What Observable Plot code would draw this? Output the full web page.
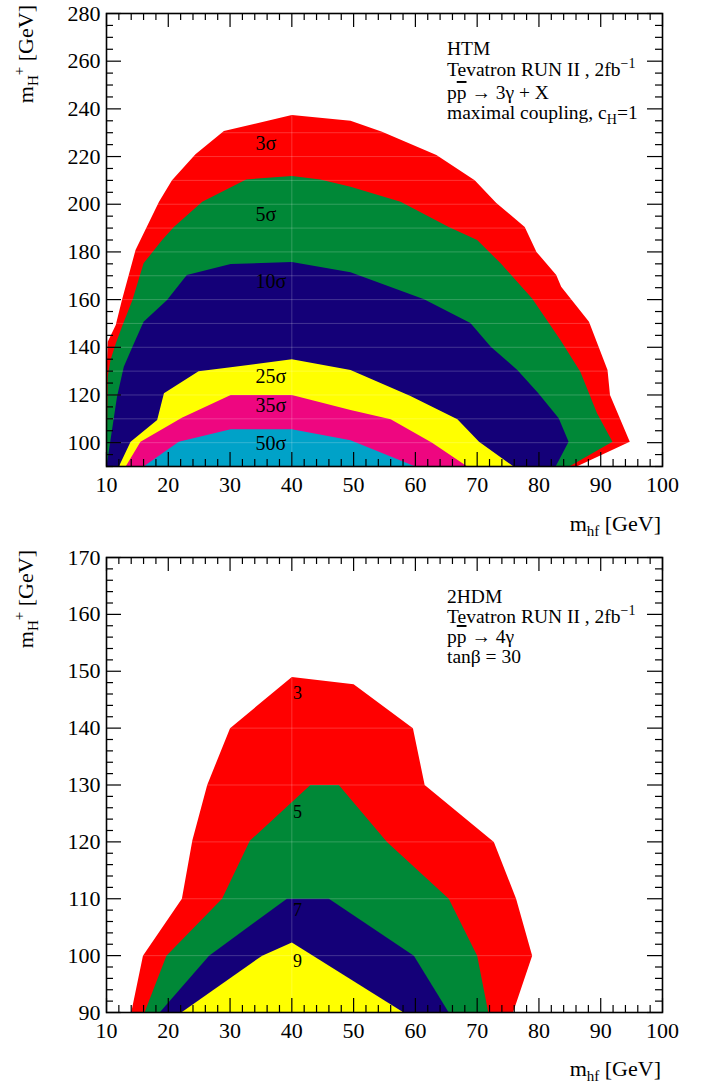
<!DOCTYPE html>
<html>
<head>
<meta charset="utf-8">
<script src="https://cdn.jsdelivr.net/npm/d3@7"></script>
<script src="https://cdn.jsdelivr.net/npm/@observablehq/plot@0.6"></script>
<style>
  body { margin: 0; background: #fff; }
  #top, #bot { display: block; width: 701px; }
  svg { display: block; }
</style>
</head>
<body>
<div id="top"></div>
<div id="bot"></div>
<script>
// ---------------- data ----------------
const xTicks = [10, 20, 30, 40, 50, 60, 70, 80, 90, 100];

// Top panel (HTM, pp̄ → 3γ + X): y tick labels
const topYTicks = [100, 120, 140, 160, 180, 200, 220, 240, 260, 280];
// contour polygons [m_hf, m_H+]
const top3s = [[10,90],[10,128],[10.2,142.3],[11.5,149.3],[12.5,159.8],[13.6,170.3],[14.7,180.8],[18.5,201],[20.6,210.1],[24.4,221],[29,230.7],[40,237.4],[49.5,235],[54.6,230.4],[63.4,220.6],[69.6,210.1],[73.1,200.5],[77.7,190.5],[79.6,180],[82.8,170.3],[83.6,165.4],[88.1,150.7],[91.1,130.5],[91.5,120],[94.7,100.4],[86.1,90]];
const top5s = [[10,90],[10.2,127.7],[10.65,134.7],[11.5,141.6],[12.5,148.6],[14.2,159.8],[16,175.2],[19,185],[20.9,190.5],[25.5,201],[32.6,210.4],[40,211.8],[44.6,210.4],[49.5,207.3],[57.6,201],[65.4,190.5],[70,185],[73.8,175.2],[78.9,160.5],[83.5,143],[86.7,129.7],[88.1,120.7],[89.4,112.3],[91.9,100.4],[84.9,90]];
const top10s = [[10,90],[11.7,119.3],[12.8,131.8],[14.2,140.2],[16,150.7],[19.8,159.8],[23,170.3],[30.1,174.9],[40,175.8],[49.5,171.5],[61.4,160.1],[68.9,150.2],[72.2,140.2],[76.5,130.5],[79.9,120.7],[83.2,110.2],[84.8,100.4],[82.7,90]];
const top25s = [[12,90],[13.9,100.4],[18.2,109.5],[19.3,120.7],[24.9,130],[30.1,131.6],[40,135],[49.5,130.5],[59.2,119.6],[66.8,109.8],[70.3,100.4],[75.9,90]];
const top35s = [[13.1,90],[15.5,100.4],[22.2,110.4],[30.1,120],[40,120],[49.5,113.7],[56,109.8],[62.7,100],[68.4,90]];
const top50s = [[16,90],[21.7,100.4],[30.1,105.6],[40,105.6],[49.5,101],[60,90]];
const topLabels = ["3σ", "5σ", "10σ", "25σ", "35σ", "50σ"];
const topLabelX = [34.1, 34.1, 34.1, 34.1, 34.1, 34.1];
const topLabelY = [225.5, 195.5, 167.4, 127.7, 115.4, 99.4];

// Bottom panel (2HDM, pp̄ → 4γ)
const botYTicks = [90, 100, 110, 120, 130, 140, 150, 160, 170];
const bot3 = [[14,90],[15.9,100],[22.2,110],[23.9,120.3],[26.3,130],[30,140],[40,149],[50,147.7],[59.6,140],[61.5,130],[72.7,120],[76.3,110],[78.9,100],[75.8,90]];
const bot5 = [[16.15,90],[19.7,100],[28.7,110],[33.2,120.2],[43,130],[47.6,130],[55.4,120],[65.4,110],[70,100],[71.8,90]];
const bot7 = [[18.6,90],[26.6,100],[39.2,110],[46,110],[59.75,100],[65.4,90]];
const bot9 = [[22.1,90],[35.2,100],[40,102.3],[58.1,90]];
const botLabels = ["3", "5", "7", "9"];
const botLabelX = [40.2, 40.2, 40.2, 40.2];
const botLabelY = [146.1, 125.2, 107.9, 99.1];

// ---------------- drawing ----------------
const FONT = "'Liberation Serif','Times New Roman',Times,serif";
const C = {red: "#ff0000", green: "#008837", navy: "#140078", yellow: "#ffff00", pink: "#ee0680", cyan: "#00a2c8"};

function panel(cfg) {
  const width = 701, ml = 106, mr = 39;
  const {height, mt, mb, yDomain, yMajor, yLabels, yMinorStep, gridStep, polys, labels, labelX, labelY, labelSize} = cfg;
  const iw = width - ml - mr, ih = height - mt - mb;
  const xMinor = d3.range(10, 101, 2).filter(v => v % 10 !== 0);
  const yMinor = d3.range(yDomain[0], yDomain[1] + 0.001, yMinorStep).filter(v => !yMajor.includes(v));
  const gridY = d3.range(yDomain[0] + gridStep, yDomain[1], gridStep);
  const tk = {stroke: "black", strokeWidth: 1.2};
  const marks = [
    ...polys.map(p => Plot.line(p.pts, {x: d => d[0], y: d => d[1], fill: p.color, stroke: "none", clip: true})),
    Plot.ruleY(gridY, {stroke: "white", strokeOpacity: 0.2, strokeWidth: 1, clip: true}),
    Plot.ruleX([40], {stroke: "white", strokeOpacity: 0.2, strokeWidth: 1, clip: true}),
    // ticks, all pointing inward
    Plot.tickX(xTicks, {x: d => d, insetTop: ih - 14, ...tk}),
    Plot.tickX(xMinor, {x: d => d, insetTop: ih - 7, ...tk}),
    Plot.tickX(xTicks, {x: d => d, insetBottom: ih - 14, ...tk}),
    Plot.tickX(xMinor, {x: d => d, insetBottom: ih - 7, ...tk}),
    Plot.tickY(yMajor, {y: d => d, insetRight: iw - 15, ...tk}),
    Plot.tickY(yMinor, {y: d => d, insetRight: iw - 7, ...tk}),
    Plot.tickY(yMajor, {y: d => d, insetLeft: iw - 15, ...tk}),
    Plot.tickY(yMinor, {y: d => d, insetLeft: iw - 7, ...tk}),
    Plot.frame({stroke: "black", strokeWidth: 1.6}),
    // tick labels
    Plot.text(xTicks, {x: d => d, text: d => String(d), frameAnchor: "bottom", dy: 18, lineAnchor: "middle", fontSize: 22, fontFamily: FONT, fill: "black"}),
    Plot.text(yLabels, {y: d => d, text: d => String(d), frameAnchor: "left", dx: -6, textAnchor: "end", lineAnchor: "middle", fontSize: 22, fontFamily: FONT, fill: "black"}),
    // contour labels
    Plot.text(labels, {x: (d, i) => labelX[i], y: (d, i) => labelY[i], text: d => d, textAnchor: "start", lineAnchor: "middle", fontSize: labelSize, fontFamily: FONT, fill: "black"})
  ];
  return Plot.plot({
    width, height,
    marginLeft: ml, marginRight: mr, marginTop: mt, marginBottom: mb,
    x: {domain: [10, 100], axis: null},
    y: {domain: yDomain, axis: null},
    style: {fontFamily: FONT, background: "white", overflow: "visible"},
    marks
  });
}

// rich text helper: parts = [{t, dy, size, over}]
function rich(svg, x, y, parts, size, opts = {}) {
  const t = d3.select(svg).append("text")
    .attr("x", x).attr("y", y)
    .attr("font-family", FONT).attr("font-size", size)
    .attr("fill", "black").attr("text-anchor", opts.anchor || "start");
  if (opts.rotate) t.attr("transform", `rotate(-90 ${x} ${y})`);
  let shift = 0;
  for (const p of parts) {
    const s = t.append("tspan").text(p.t);
    const target = p.dy || 0;
    s.attr("dy", target - shift);
    shift = target;
    if (p.size) s.attr("font-size", p.size);
    if (p.over) s.style("text-decoration", "overline");
  }
  return t;
}

function yTitle(svg, yEnd) {
  rich(svg, 33, yEnd, [
    {t: "m"}, {t: "H", dy: 5, size: 15}, {t: "+", dy: -9, size: 15}, {t: " [GeV]"}
  ], 22, {rotate: true, anchor: "end"});
}
function xTitle(svg, yBase) {
  rich(svg, 661, yBase, [
    {t: "m"}, {t: "hf", dy: 5, size: 15}, {t: " [GeV]"}
  ], 22, {anchor: "end"});
}

// ---- top panel ----
const topChart = panel({
  height: 540, mt: 13, mb: 74,
  yDomain: [90, 280], yMajor: topYTicks, yLabels: topYTicks, yMinorStep: 5, gridStep: 10,
  polys: [
    {pts: top3s, color: C.red}, {pts: top5s, color: C.green}, {pts: top10s, color: C.navy},
    {pts: top25s, color: C.yellow}, {pts: top35s, color: C.pink}, {pts: top50s, color: C.cyan}
  ],
  labels: topLabels, labelX: topLabelX, labelY: topLabelY, labelSize: 20
});
document.getElementById("top").appendChild(topChart);
yTitle(topChart, 5);
xTitle(topChart, 531);
const ax = 447, fs = 19.5;
rich(topChart, ax, 55, [{t: "HTM"}], fs);
rich(topChart, ax, 75.5, [{t: "Tevatron RUN II , 2fb"}, {t: "−1", dy: -8, size: 14}], fs);
rich(topChart, ax, 99, [{t: "p"}, {t: "p", over: true}, {t: " → 3γ + X"}], fs);
rich(topChart, ax, 119, [{t: "maximal coupling, c"}, {t: "H", dy: 5, size: 14}, {t: "=1"}], fs);

// ---- bottom panel ----
const botChart = panel({
  height: 546, mt: 17, mb: 74,
  yDomain: [90, 170], yMajor: botYTicks, yLabels: botYTicks, yMinorStep: 2, gridStep: 10,
  polys: [
    {pts: bot3, color: C.red}, {pts: bot5, color: C.green}, {pts: bot7, color: C.navy}, {pts: bot9, color: C.yellow}
  ],
  labels: botLabels, labelX: botLabelX, labelY: botLabelY, labelSize: 18
});
document.getElementById("bot").appendChild(botChart);
yTitle(botChart, 10);
xTitle(botChart, 536);
rich(botChart, ax, 63, [{t: "2HDM"}], fs);
rich(botChart, ax, 83, [{t: "Tevatron RUN II , 2fb"}, {t: "−1", dy: -8, size: 14}], fs);
rich(botChart, ax, 103, [{t: "p"}, {t: "p", over: true}, {t: " → 4γ"}], fs);
rich(botChart, ax, 123, [{t: "tanβ = 30"}], fs);
</script>
</body>
</html>
